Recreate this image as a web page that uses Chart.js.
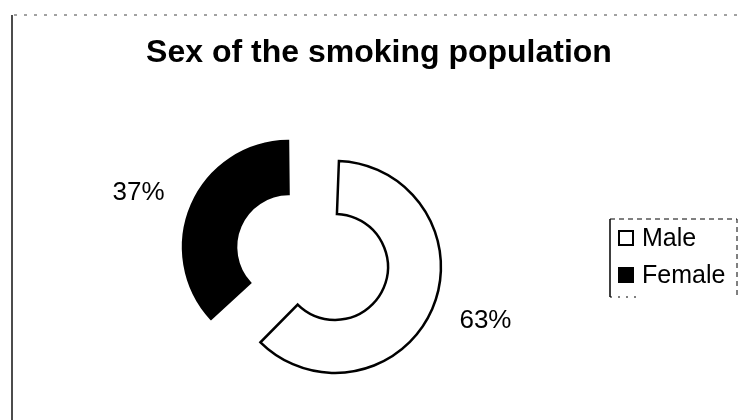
<!DOCTYPE html>
<html>
<head>
<meta charset="utf-8">
<title>Sex of the smoking population</title>
<script src="https://cdn.jsdelivr.net/npm/chart.js@4.4.1/dist/chart.umd.min.js"></script>
<style>
    body { margin: 0; background: #fff; }
    canvas { display: block; }
</style>
</head>
<body>
<canvas id="grafico" width="739" height="420"></canvas>
<script>
        const titulo = 'Sex of the smoking population';
        const categorias = ['Male', 'Female'];
        const percentagens = [63, 37];

        const FONTE = "'Liberation Sans', Arial, Helvetica, sans-serif";

        // quanto o Chart.js engrossa um arco com offset (ver ArcElement.draw)
        function crescimento(arco){
            const desloc = (arco.options.offset || 0) / 4;
            const fix = 1 - Math.sin(Math.min(Math.PI, arco.circumference));
            return desloc * fix;
        }

        // o offset também aumenta o raio do arco; desfaz isso para as duas fatias ficarem do mesmo tamanho
        const manterRaio = {
            id: 'manterRaio',
            afterDatasetUpdate(chart, args){
                args.meta.data.forEach(arco => {
                    const extra = crescimento(arco);
                    arco.outerRadius -= extra;
                    arco.innerRadius -= extra;
                });
            }
        };

        // moldura, título, legenda em caixa e percentagens fora das fatias
        const decoracao = {
            id: 'decoracao',
            afterDraw(chart){
                const ctx = chart.ctx;
                const ds = chart.data.datasets[0];
                const meta = chart.getDatasetMeta(0);
                ctx.save();

                // moldura da página
                ctx.strokeStyle = '#111';
                ctx.lineWidth = 1.5;
                ctx.beginPath();
                ctx.moveTo(12, 15);
                ctx.lineTo(12, 420);
                ctx.stroke();
                ctx.lineWidth = 1;
                ctx.strokeStyle = '#444';
                ctx.setLineDash([3, 7]);
                ctx.beginPath();
                ctx.moveTo(14, 15);
                ctx.lineTo(739, 15);
                ctx.stroke();
                ctx.setLineDash([]);

                // título
                ctx.fillStyle = '#000';
                ctx.font = 'bold 32px ' + FONTE;
                ctx.textAlign = 'center';
                ctx.textBaseline = 'alphabetic';
                ctx.fillText(titulo, 379, 62);

                // caixa da legenda
                const lx = 610, ly = 219, lw = 127, lh = 78;
                ctx.strokeStyle = '#000';
                ctx.lineWidth = 1.5;
                ctx.beginPath();
                ctx.moveTo(lx, ly);
                ctx.lineTo(lx, ly + lh);
                ctx.stroke();
                ctx.lineWidth = 1;
                ctx.setLineDash([5, 4]);
                ctx.beginPath();
                ctx.moveTo(lx, ly);
                ctx.lineTo(lx + lw, ly);
                ctx.lineTo(lx + lw, ly + lh);
                ctx.stroke();
                ctx.setLineDash([2, 6]);
                ctx.beginPath();
                ctx.moveTo(lx, ly + lh);
                ctx.lineTo(lx + 30, ly + lh);
                ctx.stroke();
                ctx.setLineDash([]);

                ctx.font = '25px ' + FONTE;
                ctx.textAlign = 'left';
                ctx.textBaseline = 'middle';
                for(let i = 0; i < categorias.length; i++){
                    const y = 238 + i * 37;
                    ctx.fillStyle = ds.backgroundColor[i];
                    ctx.fillRect(619, y - 7, 14, 14);
                    ctx.strokeStyle = '#000';
                    ctx.lineWidth = 2;
                    ctx.strokeRect(619, y - 7, 14, 14);
                    ctx.fillStyle = '#000';
                    ctx.fillText(categorias[i], 642, y + 1);
                }

                // percentagens
                const total = percentagens.reduce((a, b) => a + b, 0);
                ctx.font = '26px ' + FONTE;
                ctx.textAlign = 'center';
                meta.data.forEach((arco, i) => {
                    const meio = (arco.startAngle + arco.endAngle) / 2;
                    const desloc = (arco.options.offset || 0) / 4;
                    const raio = arco.outerRadius + crescimento(arco);
                    const cx = arco.x + Math.cos(meio) * desloc;
                    const cy = arco.y + Math.sin(meio) * desloc;
                    const x = cx + Math.cos(meio) * (raio + 58);
                    const y = cy + Math.sin(meio) * raio + Math.sin(meio) * 30;
                    const texto = Math.round(percentagens[i] / total * 100) + '%';
                    ctx.fillStyle = '#000';
                    ctx.fillText(texto, x, y);
                });

                ctx.restore();
            }
        };

        const ctx1 = document.getElementById('grafico');

        new Chart(ctx1, {
            type: 'doughnut',
            data: {
                labels: categorias,
                datasets: [{
                    data: percentagens,
                    backgroundColor: ['#ffffff', '#000000'],
                    borderColor: '#000000',
                    borderWidth: 2.5,
                    borderJoinStyle: 'miter',
                    offset: 100,
                    hoverOffset: 0
                }]
            },
            options: {
                responsive: false,
                animation: false,
                events: [],
                cutout: '50%',
                radius: 106,
                layout: {
                    padding: { left: 0, right: 115, top: 94, bottom: 0 }
                },
                plugins: {
                    legend: { display: false },
                    title: { display: false },
                    tooltip: { enabled: false }
                }
            },
            plugins: [manterRaio, decoracao]
        });
</script>
</body>
</html>
